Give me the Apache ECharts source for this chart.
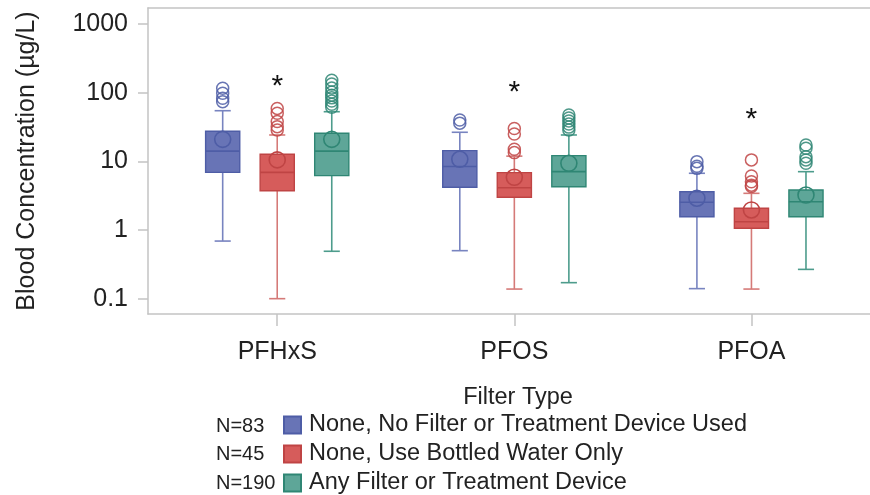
<!DOCTYPE html>
<html>
<head>
<meta charset="utf-8">
<script src="https://cdn.jsdelivr.net/npm/echarts@6/dist/echarts.min.js"></script>
<style>
  html, body { margin: 0; padding: 0; background: #fff; }
  #chart { width: 870px; height: 495px; }
</style>
</head>
<body>
<div id="chart"></div>
<script>
// Blood concentration of PFAS compounds by drinking-water filter type
const categories = ['PFHxS', 'PFOS', 'PFOA'];
const groupNames = [
  'None, No Filter or Treatment Device Used',
  'None, Use Bottled Water Only',
  'Any Filter or Treatment Device'
];
const groupCounts = ['N=83', 'N=45', 'N=190'];
const yTickValues = [0.1, 1, 10, 100, 1000];

// [min whisker, Q1, median, Q3, max whisker] per compound
const noFilterBox = [[0.69, 6.9, 14.1, 27.4, 54.6], [0.5, 4.2, 8.4, 14.3, 26.5], [0.14, 1.56, 2.53, 3.61, 6.7]];
const noFilterMean = [20.9, 10.7, 2.9];
const noFilterOutliers = [[116, 98, 83, 74], [40, 36], [9.9, 8.5, 7.9]];

const bottledBox = [[0.1, 3.73, 6.9, 12.7, 24.2], [0.138, 3.0, 4.13, 6.84, 11.9], [0.138, 1.06, 1.32, 2.07, 3.42]];
const bottledMean = [10.5, 5.85, 1.96];
const bottledOutliers = [[59, 50, 38, 32, 28.6], [30, 25, 15, 13.4], [10.5, 6.1, 5.05, 4.5, 4.3]];

const anyFilterBox = [[0.49, 6.2, 14.1, 25.6, 52.8], [0.171, 4.27, 7.07, 12.1, 24.2], [0.267, 1.56, 2.58, 3.83, 7.07]];
const anyFilterMean = [20.9, 9.36, 3.23];
const anyFilterOutliers = [[152, 134, 117, 102, 92, 84, 75.6, 68, 61.5], [47.3, 42.8, 38.6, 34.9, 31.5, 28.5], [17.3, 15.5, 11.7, 10.5, 9.4]];

// Bottled-water group differs significantly (marked with *)
const significanceMarks = [120, 100, 41];

const FONT = "'Liberation Sans', Arial, Helvetica, sans-serif";

const groups = [
  { name: groupNames[0], box: noFilterBox, mean: noFilterMean, outliers: noFilterOutliers,
    fill: '#6874b6', edge: '#4e5da6', whisker: '#7884c0', offset: -0.23 },
  { name: groupNames[1], box: bottledBox, mean: bottledMean, outliers: bottledOutliers,
    fill: '#d65c5b', edge: '#bf4444', whisker: '#d57a78', offset: 0 },
  { name: groupNames[2], box: anyFilterBox, mean: anyFilterMean, outliers: anyFilterOutliers,
    fill: '#5ea698', edge: '#2f8674', whisker: '#4d9c8c', offset: 0.23 }
];

const BOX_HALF = 0.072;   // half box width in category units
const CAP_HALF = 0.034;   // half whisker-cap width

function boxRenderer(g) {
  return function (params, api) {
    const c = api.value(0) + g.offset;
    const lo = api.value(1), q1 = api.value(2), med = api.value(3), q3 = api.value(4), hi = api.value(5), mean = api.value(6);
    const pMin = api.coord([c, lo]);
    const pQ1 = api.coord([c, q1]);
    const pMed = api.coord([c, med]);
    const pQ3 = api.coord([c, q3]);
    const pMax = api.coord([c, hi]);
    const pMean = api.coord([c, mean]);
    const xL = api.coord([c - BOX_HALF, med])[0];
    const xR = api.coord([c + BOX_HALF, med])[0];
    const cL = api.coord([c - CAP_HALF, med])[0];
    const cR = api.coord([c + CAP_HALF, med])[0];
    const x = pMed[0];
    const wStyle = { stroke: g.whisker, lineWidth: 1.6 };
    return {
      type: 'group',
      children: [
        { type: 'line', shape: { x1: x, y1: pQ1[1], x2: x, y2: pMin[1] }, style: wStyle },
        { type: 'line', shape: { x1: x, y1: pQ3[1], x2: x, y2: pMax[1] }, style: wStyle },
        { type: 'line', shape: { x1: cL, y1: pMin[1], x2: cR, y2: pMin[1] }, style: wStyle },
        { type: 'line', shape: { x1: cL, y1: pMax[1], x2: cR, y2: pMax[1] }, style: wStyle },
        { type: 'rect', shape: { x: xL, y: pQ3[1], width: xR - xL, height: pQ1[1] - pQ3[1] },
          style: { fill: g.fill, stroke: g.edge, lineWidth: 1.4 } },
        { type: 'line', shape: { x1: xL, y1: pMed[1], x2: xR, y2: pMed[1] },
          style: { stroke: g.edge, lineWidth: 1.6 } },
        { type: 'circle', shape: { cx: x, cy: pMean[1], r: 8 },
          style: { fill: 'none', stroke: g.edge, lineWidth: 1.6 } }
      ]
    };
  };
}

function outlierRenderer(g) {
  return function (params, api) {
    const p = api.coord([api.value(0) + g.offset, api.value(1)]);
    return { type: 'circle', shape: { cx: p[0], cy: p[1], r: 6 },
      style: { fill: 'none', stroke: g.edge, lineWidth: 1.5, opacity: 0.85 } };
  };
}

const series = [];
groups.forEach(function (g) {
  series.push({
    type: 'custom',
    name: g.name,
    renderItem: boxRenderer(g),
    itemStyle: { color: g.fill, borderColor: g.edge, borderWidth: 1 },
    encode: { x: 0, y: [1, 2, 3, 4, 5] },
    data: g.box.map(function (b, i) { return [i].concat(b, [g.mean[i]]); }),
    z: 3
  });
  const pts = [];
  g.outliers.forEach(function (list, i) { list.forEach(function (v) { pts.push([i, v]); }); });
  series.push({
    type: 'custom',
    name: g.name + ' outliers',
    renderItem: outlierRenderer(g),
    encode: { x: 0, y: 1 },
    data: pts,
    z: 4
  });
});

series.push({
  type: 'custom',
  name: 'significance',
  renderItem: function (params, api) {
    const p = api.coord([api.value(0), api.value(1)]);
    return { type: 'text', x: p[0], y: p[1],
      style: { text: '*', font: '30px ' + FONT, fill: '#111', align: 'center', verticalAlign: 'middle' } };
  },
  encode: { x: 0, y: 1 },
  data: significanceMarks.map(function (v, i) { return [i, v]; }),
  z: 5
});

const frameColor = '#c3c3c3';

const option = {
  animation: false,
  backgroundColor: '#ffffff',
  textStyle: { fontFamily: FONT },
  grid: { left: 148, right: 0, top: 8, bottom: 181, containLabel: false },
  xAxis: [{
    type: 'value',
    min: -0.545,
    max: 2.5,
    position: 'bottom',
    splitLine: { show: false },
    axisLine: { show: true, onZero: false, lineStyle: { color: frameColor, width: 1.5 } },
    axisTick: { show: true, length: 12, customValues: [0, 1, 2], lineStyle: { color: frameColor, width: 1.5 } },
    axisLabel: {
      customValues: [0, 1, 2],
      formatter: function (v) { return categories[Math.round(v)]; },
      fontSize: 25, color: '#222', margin: 26, fontFamily: FONT
    }
  }, {
    type: 'value',
    min: -0.545,
    max: 2.5,
    position: 'top',
    splitLine: { show: false },
    axisLine: { show: true, onZero: false, lineStyle: { color: frameColor, width: 1.5 } },
    axisTick: { show: false },
    axisLabel: { show: false }
  }],
  yAxis: {
    type: 'log',
    logBase: 10,
    min: 0.0598,
    max: 1710,
    name: 'Blood Concentration (µg/L)',
    nameLocation: 'middle',
    nameGap: 108,
    nameTextStyle: { fontSize: 25, color: '#222', fontFamily: FONT },
    splitLine: { show: false },
    axisLine: { show: true, onZero: false, lineStyle: { color: frameColor, width: 1.5 } },
    axisTick: { show: true, length: 10, customValues: yTickValues, lineStyle: { color: frameColor, width: 1.5 } },
    axisLabel: {
      customValues: yTickValues,
      formatter: function (v) { return String(v); },
      fontSize: 25, color: '#222', margin: 20, fontFamily: FONT
    }
  },
  legend: {
    data: groupNames,
    orient: 'vertical',
    left: 278,
    top: 408,
    height: 88,
    itemWidth: 17,
    itemHeight: 17,
    itemGap: 5,
    icon: 'rect',
    textStyle: { fontSize: 23.5, color: '#222', fontFamily: FONT, padding: [0, 0, 0, 3] },
    selectedMode: false
  },
  title: [{
    text: 'Filter Type',
    left: 513,
    top: 381,
    textAlign: 'center',
    textStyle: { fontSize: 23.5, fontWeight: 'normal', color: '#222', fontFamily: FONT }
  }, {
    text: groupCounts.join('\n'),
    left: 211,
    top: 407,
    textStyle: { fontSize: 20, fontWeight: 'normal', color: '#222', lineHeight: 28.5, fontFamily: FONT }
  }],
  series: series
};

const chart = echarts.init(document.getElementById('chart'), null, { renderer: 'canvas' });
chart.setOption(option);
</script>
</body>
</html>
